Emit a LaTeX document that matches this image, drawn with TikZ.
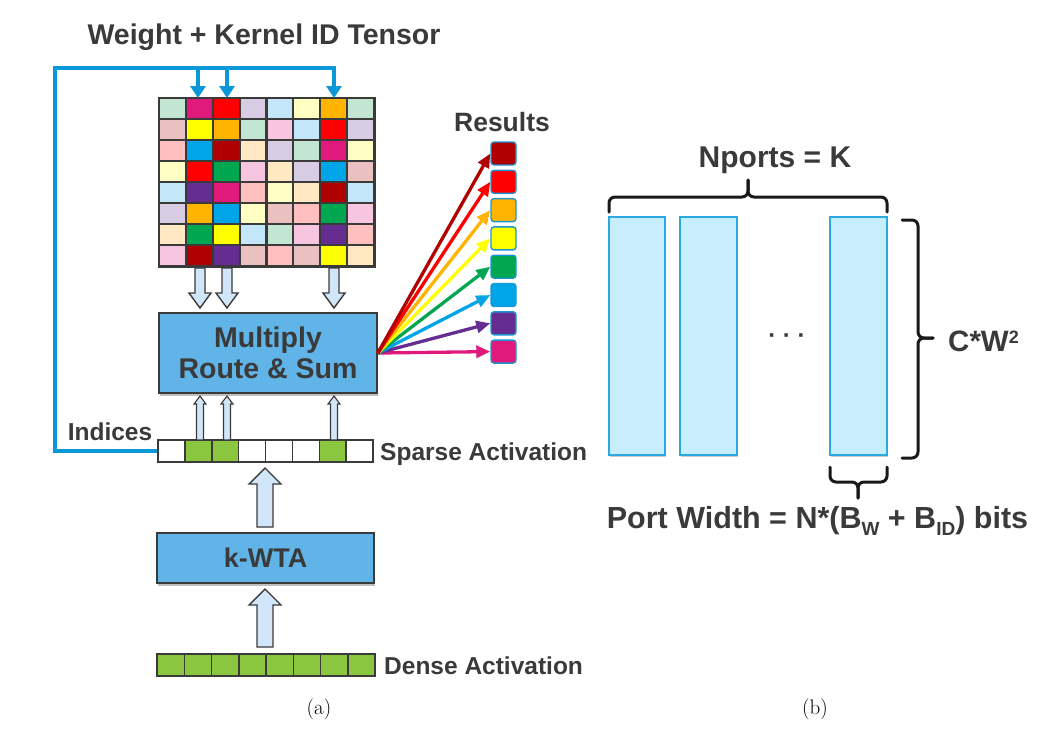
\documentclass[tikz,border=0pt]{standalone}
\usepackage{fontspec}
\newfontfamily\lib{Liberation Sans}
\usetikzlibrary{arrows.meta,shadows}
\definecolor{txt}{HTML}{3A3A3A}
\definecolor{boxblue}{HTML}{60B4E8}
\definecolor{afill}{HTML}{D2E6FA}
\definecolor{fbblue}{HTML}{0A98D8}
\definecolor{actgreen}{HTML}{8BC63F}
\definecolor{barfill}{HTML}{C8EEFB}
\definecolor{barline}{HTML}{2AA8E0}
\definecolor{sqline}{HTML}{1A96D4}
\definecolor{gG}{HTML}{C3E6D3}
\definecolor{gM}{HTML}{E0197D}
\definecolor{gR}{HTML}{FF0000}
\definecolor{gL}{HTML}{D8CCE4}
\definecolor{gB}{HTML}{C3E7F8}
\definecolor{gY}{HTML}{FFFFC4}
\definecolor{gO}{HTML}{FFB400}
\definecolor{gP}{HTML}{EBC0C0}
\definecolor{gW}{HTML}{FFFF00}
\definecolor{gK}{HTML}{F7C5E0}
\definecolor{gS}{HTML}{FFBFBF}
\definecolor{gU}{HTML}{00A5E8}
\definecolor{gD}{HTML}{B00000}
\definecolor{gE}{HTML}{FFE8C2}
\definecolor{gN}{HTML}{00A650}
\definecolor{gV}{HTML}{662D91}
\newcommand\bfs[1]{\lib\bfseries\fontsize{#1}{#1}\selectfont}
\newcommand\supx[1]{\raisebox{8pt}{\fontsize{18}{18}\selectfont #1}}
\newcommand\subx[1]{\raisebox{-7pt}{\fontsize{19}{19}\selectfont #1}}
\newcommand\blockarrow[7][blockarr]{\filldraw[#1] (#2-#6,#3) -- (#2-#6,#4) -- (#2-#7,#4) -- (#2,#5) -- (#2+#7,#4) -- (#2+#6,#4) -- (#2+#6,#3) -- cycle;}
\begin{document}
\begin{tikzpicture}[x=1pt,y=-1pt,
  lbl/.style={text=txt,inner sep=0pt,font=\bfs{24.5}},
  box/.style={draw=txt,line width=1.6pt,fill=boxblue,text=txt,inner sep=0pt,
     drop shadow={shadow xshift=1pt,shadow yshift=-2.5pt,opacity=0.25,fill=black}},
  blockarr/.style={draw=txt,line width=1.4pt,fill=afill,line join=miter},
  thinarr/.style={draw=txt,line width=1.1pt,fill=afill,line join=miter},
  cell/.style={draw=txt,line width=1.5pt},
  fb/.style={draw=fbblue,line width=3.5pt},
  fbarr/.style={fb,-{Triangle[width=15pt,length=12pt]}},
  rsq/.style={draw=sqline,line width=1.4pt,rounded corners=3pt,minimum width=25pt,minimum height=23pt,inner sep=0pt},
  rarr/.style={line width=3.3pt,-{Triangle[width=12pt,length=14pt]}},
  bar/.style={draw=barline,line width=1.2pt,fill=barfill,minimum height=238pt,inner sep=0pt,
     drop shadow={shadow xshift=1pt,shadow yshift=-2pt,opacity=0.2,fill=black}},
  brc/.style={draw=black!90,line width=3pt,rounded corners=6pt,line cap=round}
]
\useasboundingbox (0,0) rectangle (1058,732);

% ---------- (a) ----------
\node[lbl,font=\bfs{28.5},anchor=base] (title) at (264,44) {Weight + Kernel ID Tensor};

% weight grid
\node[minimum width=215pt,minimum height=168pt,inner sep=0pt] (grid) at (266.5,182) {};
\foreach \rowc [count=\r from 0] in {
  {gG,gM,gR,gL,gB,gY,gO,gG},
  {gP,gW,gO,gG,gK,gB,gR,gL},
  {gS,gU,gD,gE,gL,gG,gM,gY},
  {gY,gR,gN,gK,gE,gL,gU,gP},
  {gB,gV,gM,gS,gY,gE,gD,gB},
  {gL,gO,gU,gY,gP,gS,gN,gK},
  {gE,gN,gW,gB,gG,gK,gV,gS},
  {gK,gD,gV,gP,gS,gP,gW,gE}} {
  \foreach \c [count=\i from 0] in \rowc {
    \fill[\c] (159+26.875*\i,98+21*\r) rectangle ++(26.875,21);
  }
}
\foreach \i in {1,...,7} {
  \draw[txt,line width=2.2pt] (159+26.875*\i,98) -- (159+26.875*\i,266);
  \draw[txt,line width=2.2pt] (159,98+21*\i) -- (374,98+21*\i);
}
\draw[txt,line width=2.6pt] (grid.north west) rectangle (grid.south east);

% feedback line
\node[minimum width=215pt,minimum height=22pt,inner sep=0pt] (sparse) at (265.5,451) {};
\draw[fbarr] (sparse.west) -| (55,68) -| (334,98);
\draw[fbarr] (198,68) -- (198,98);
\draw[fbarr] (227,68) -- (227,98);

% multiply box
\node[box,minimum width=218pt,minimum height=80pt,align=center,font=\fontsize{28.5}{31}\lib\bfseries\selectfont] (mrs) at (268,353) {Multiply\\Route \& Sum};

% arrows grid -> box
\blockarrow{200}{268}{293}{308}{5}{11}
\blockarrow{227}{268}{293}{308}{5}{11}
\blockarrow{334}{268}{293}{308}{5}{11}

% sparse activation
\foreach \i in {0,...,7} \draw[cell,fill=white] (158+26.875*\i,440) rectangle ++(26.875,22);
\foreach \i in {1,2,6} \draw[cell,fill=actgreen] (158+26.875*\i,440) rectangle ++(26.875,22);
\node[lbl,anchor=base] (ind) at (110,440) {Indices};
\node[lbl,anchor=base west] (sl) at (380,460) {Sparse Activation};

% thin arrows sparse -> box
\blockarrow[thinarr]{200}{440}{404}{396}{3.5}{6}
\blockarrow[thinarr]{227}{440}{404}{396}{3.5}{6}
\blockarrow[thinarr]{334}{440}{404}{396}{3.5}{6}

% k-WTA
\node[box,minimum width=217pt,minimum height=50pt,font=\bfs{27}] (kwta) at (265.5,558) {k-WTA};
\blockarrow{265}{527}{484}{468}{8}{16}
\blockarrow{265}{647}{605}{589}{8}{16}

% dense activation
\node[minimum width=218pt,minimum height=22pt,inner sep=0pt] (dense) at (266,665) {};
\foreach \i in {0,...,7} \draw[cell,fill=actgreen] (157+27.25*\i,654) rectangle ++(27.25,22);
\node[lbl,anchor=base west] (dl) at (384,674) {Dense Activation};

% results
\node[lbl,font=\bfs{26.5},anchor=base] (res) at (502,131) {Results};
\foreach \c [count=\i from 0] in {gD,gR,gO,gW,gN,gU,gV,gM}
  \node[rsq,fill=\c] (r\i) at (503.5,153.5+28.3*\i) {};
\foreach \c/\i in {gM/7,gV/6,gU/5,gN/4,gW/3,gO/2,gR/1,gD/0}
  \draw[rarr,draw=\c] (mrs.east) -- (r\i.west);

\node[anchor=base,font=\fontsize{21}{21}\selectfont] (capa) at (319,714) {(a)};

% ---------- (b) ----------
\node[bar,minimum width=56pt] (p1) at (637,336) {};
\node[bar,minimum width=57pt] (p2) at (708.5,336) {};
\node[bar,minimum width=57pt] (p3) at (858.5,336) {};
\node[lbl,font=\bfs{24},anchor=base] (dots) at (787,343.5) {· · ·};

\draw[brc] (609,212) |- (748,197) -- (748,180);
\draw[brc] (887,212) |- (748,197) -- (748,180);
\node[lbl,font=\bfs{30},anchor=base] (np) at (775,167) {Nports = K};

\draw[brc] (902,220) -| (918,338) -- (933,338);
\draw[brc] (902,458) -| (918,338) -- (933,338);
\node[lbl,font=\bfs{29.5},anchor=base west] (cw) at (948,351) {C*W\supx{2}};

\draw[brc] (830,467) |- (858,482) -- (858,498);
\draw[brc] (887,467) |- (858,482) -- (858,498);
\node[lbl,font=\bfs{30.5},anchor=base] (pw) at (817.5,528) {Port Width = N*(B\subx{W} + B\subx{ID}) bits};

\node[anchor=base,font=\fontsize{21}{21}\selectfont] (capb) at (815,714) {(b)};
\end{tikzpicture}
\end{document}
